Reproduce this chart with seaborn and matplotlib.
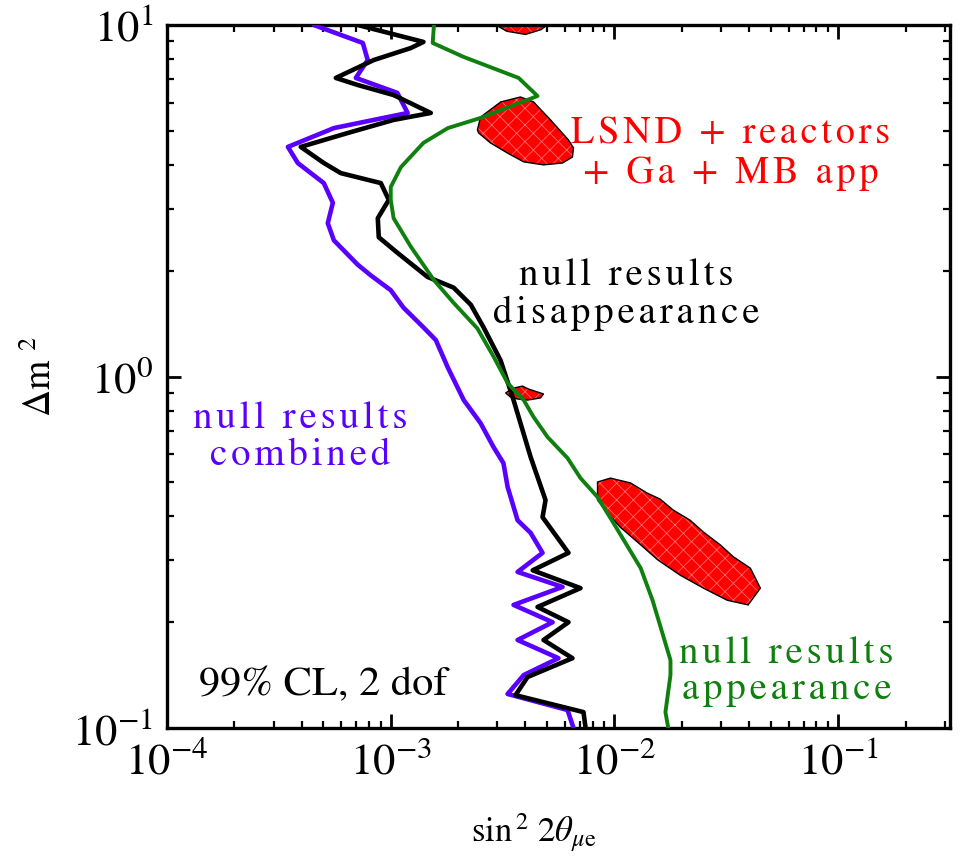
import matplotlib
matplotlib.use("Agg")
import matplotlib.pyplot as plt
import seaborn as sns
import pandas as pd

# exclusion curves (sin^2 2theta, delta m^2) top to bottom
combined_x = [4.53e-4, 7.50e-4, 7.89e-4, 6.98e-4, 1.07e-3, 1.19e-3, 5.57e-4, 3.47e-4, 3.84e-4,
              5.02e-4, 5.51e-4, 5.23e-4, 5.57e-4, 7.12e-4, 8.14e-4, 1.00e-3, 1.14e-3, 1.40e-3,
              1.59e-3, 1.80e-3, 2.12e-3, 2.52e-3, 2.88e-3, 3.19e-3, 3.33e-3, 3.69e-3, 4.22e-3,
              4.77e-3, 3.69e-3, 5.86e-3, 3.54e-3, 5.29e-3, 3.69e-3, 5.62e-3, 3.93e-3, 3.33e-3,
              6.17e-3, 6.56e-3]
combined_y = [10.0, 8.89, 7.95, 7.07, 6.41, 5.62, 5.09, 4.50, 4.05,
              3.55, 3.12, 2.73, 2.44, 2.08, 1.94, 1.76, 1.57, 1.38,
              1.27, 1.06, 0.857, 0.737, 0.630, 0.567, 0.485, 0.390, 0.359,
              0.315, 0.278, 0.252, 0.224, 0.200, 0.178, 0.158, 0.1415, 0.125,
              0.1125, 0.1]

disapp_x = [7.12e-4, 1.40e-3, 1.23e-3, 8.40e-4, 5.68e-4, 7.12e-4, 1.03e-3, 1.51e-3, 1.03e-3,
            6.43e-4, 3.96e-4, 5.02e-4, 5.98e-4, 9.03e-4, 9.80e-4, 8.75e-4, 8.84e-4, 1.07e-3,
            1.46e-3, 1.91e-3, 2.28e-3, 2.60e-3, 3.10e-3, 3.54e-3, 3.80e-3, 4.22e-3, 4.92e-3,
            4.77e-3, 6.23e-3, 4.31e-3, 7.05e-3, 4.53e-3, 6.23e-3, 4.82e-3, 6.49e-3, 4.09e-3,
            3.61e-3, 7.27e-3, 7.43e-3]
disapp_y = [10.0, 8.95, 8.60, 7.95, 7.07, 6.75, 6.32, 5.62, 5.37,
            4.93, 4.50, 4.05, 3.79, 3.55, 3.18, 2.82, 2.49, 2.25,
            1.92, 1.79, 1.60, 1.38, 1.11, 0.857, 0.737, 0.590, 0.445,
            0.398, 0.315, 0.281, 0.250, 0.221, 0.200, 0.178, 0.158, 0.1397,
            0.124, 0.111, 0.1]

app_x = [1.56e-3, 1.54e-3, 2.12e-3, 3.73e-3, 4.53e-3, 2.52e-3, 1.80e-3, 1.40e-3, 1.11e-3,
         1.00e-3, 1.00e-3, 1.03e-3, 1.23e-3, 1.56e-3, 1.91e-3, 2.44e-3, 2.88e-3, 3.33e-3,
         3.93e-3, 4.35e-3, 5.02e-3, 6.17e-3, 7.05e-3, 8.40e-3, 9.90e-3, 1.31e-2, 1.48e-2,
         1.78e-2, 1.78e-2, 1.69e-2, 1.74e-2]
app_y = [10.0, 8.89, 8.11, 7.07, 6.28, 5.44, 5.09, 4.62, 3.94,
         3.46, 3.18, 2.82, 2.34, 1.88, 1.62, 1.37, 1.14, 0.958,
         0.857, 0.767, 0.673, 0.586, 0.514, 0.454, 0.383, 0.285, 0.231,
         0.156, 0.1415, 0.111, 0.1]

# allowed regions (LSND + reactors + Ga + MB app)
island_top_x = [2.9e-3, 2.95e-3, 3.3e-3, 4.0e-3, 4.7e-3, 5.1e-3, 5.1e-3]
island_top_y = [10.8, 10.0, 9.6, 9.4, 9.7, 10.1, 10.8]
island_hi_x = [2.44e-3, 2.52e-3, 3.10e-3, 3.80e-3, 4.35e-3, 5.18e-3, 6.23e-3, 6.56e-3,
               6.49e-3, 5.86e-3, 4.82e-3, 3.93e-3, 3.33e-3, 2.79e-3, 2.47e-3]
island_hi_y = [5.03, 5.47, 6.04, 6.24, 6.04, 5.37, 4.71, 4.47,
               4.21, 4.05, 4.00, 4.08, 4.32, 4.62, 4.93]
island_mid_x = [3.26e-3, 3.54e-3, 3.88e-3, 4.13e-3, 4.82e-3, 4.67e-3, 4.09e-3, 3.69e-3, 3.43e-3]
island_mid_y = [0.898, 0.927, 0.939, 0.921, 0.892, 0.869, 0.857, 0.863, 0.874]
island_lo_x = [8.40e-3, 9.59e-3, 1.18e-2, 1.40e-2, 1.60e-2, 1.83e-2, 2.18e-2, 2.50e-2,
               2.97e-2, 3.40e-2, 4.05e-2, 4.49e-2, 3.96e-2, 3.19e-2, 2.50e-2, 1.97e-2,
               1.56e-2, 1.31e-2, 1.06e-2, 9.31e-3, 8.40e-3]
island_lo_y = [0.501, 0.514, 0.498, 0.466, 0.448, 0.417, 0.390, 0.361,
               0.332, 0.307, 0.285, 0.250, 0.224, 0.231, 0.250, 0.272,
               0.301, 0.332, 0.373, 0.409, 0.445]

xticks = [1e-4, 1e-3, 1e-2, 1e-1]
xtick_labels = ["$10^{-4}$", "$10^{-3}$", "$10^{-2}$", "$10^{-1}$"]
yticks = [1e-1, 1e0, 1e1]
ytick_labels = ["$10^{-1}$", "$10^{0}$", "$10^{1}$"]

PURPLE = "#5a00ff"
GREEN = "#0f800f"

sns.set_style("ticks")
plt.rcParams["font.family"] = ["STIXGeneral", "DejaVu Serif"]
plt.rcParams["mathtext.fontset"] = "stix"
plt.rcParams["hatch.linewidth"] = 0.6
for key in ["axes.edgecolor", "xtick.color", "ytick.color", "text.color",
            "axes.labelcolor", "xtick.labelcolor", "ytick.labelcolor"]:
    plt.rcParams[key] = "black"


def spaced(s):
    # the labels in the original are set with a little extra letter spacing
    return "\n".join("\u200a".join(line) for line in s.split("\n"))


def draw_island(ax, xs, ys):
    ax.fill(xs, ys, facecolor="#ff0000", edgecolor="#ff6a6a", hatch="xx", lw=0, zorder=1)
    ax.fill(xs, ys, fill=False, edgecolor="black", lw=1.0, zorder=1.5)


def main():
    fig = plt.figure(figsize=(9.6, 8.56), dpi=100)
    ax = fig.add_axes([0.174, 0.1495, 0.8156, 0.8213])
    ax.set_xscale("log")
    ax.set_yscale("log")

    for xs, ys in [(island_top_x, island_top_y), (island_hi_x, island_hi_y),
                   (island_mid_x, island_mid_y), (island_lo_x, island_lo_y)]:
        draw_island(ax, xs, ys)

    curves = [(combined_x, combined_y, PURPLE, 3.3),
              (disapp_x, disapp_y, "black", 3.3),
              (app_x, app_y, GREEN, 2.8)]
    for xs, ys, col, lw in curves:
        df = pd.DataFrame({"s2t": xs, "dm2": ys})
        sns.lineplot(data=df, x="s2t", y="dm2", ax=ax, color=col, linewidth=lw,
                     estimator=None, sort=False, orient="y", zorder=3)

    ax.set_xlim(1e-4, 10 ** -0.5)
    ax.set_ylim(0.1, 10)
    ax.set_xticks(xticks, xtick_labels)
    ax.set_yticks(yticks, ytick_labels)

    for s in ax.spines.values():
        s.set_linewidth(2.4)
        s.set_visible(True)
        s.set_color("black")
    ax.tick_params(which="both", direction="in", top=True, right=True, colors="black")
    ax.tick_params(which="major", length=10, width=2.0, labelsize=32, pad=10)
    ax.tick_params(which="minor", length=5, width=1.6)

    ax.set_xlabel(r"sin$^{\,2}$ 2$\theta_{\mu \mathrm{e}}$", fontsize=25)
    ax.xaxis.set_label_coords(0.468, -0.118)
    ax.set_ylabel(r"$\Delta$m $^{2}$", fontsize=27, labelpad=10)

    fs = 28
    ax.text(0.720, 0.817, spaced("LSND + reactors\n+ Ga + MB app"), color="#ff0000",
            fontsize=27.5, ha="center", va="center", transform=ax.transAxes, linespacing=1.2)
    ax.text(0.586, 0.617, spaced("null results\ndisappearance"), color="black",
            fontsize=fs, ha="center", va="center", transform=ax.transAxes, linespacing=1.1)
    ax.text(0.170, 0.414, spaced("null results\ncombined"), color=PURPLE,
            fontsize=fs, ha="center", va="center", transform=ax.transAxes, linespacing=1.1)
    ax.text(0.791, 0.080, spaced("null results\nappearance"), color=GREEN,
            fontsize=fs, ha="center", va="center", transform=ax.transAxes, linespacing=1.05)
    ax.text(0.199, 0.061, "99% CL, 2 dof", color="black",
            fontsize=30.5, ha="center", va="center", transform=ax.transAxes)

    fig.savefig("out.png", dpi=100)


if __name__ == "__main__":
    main()
